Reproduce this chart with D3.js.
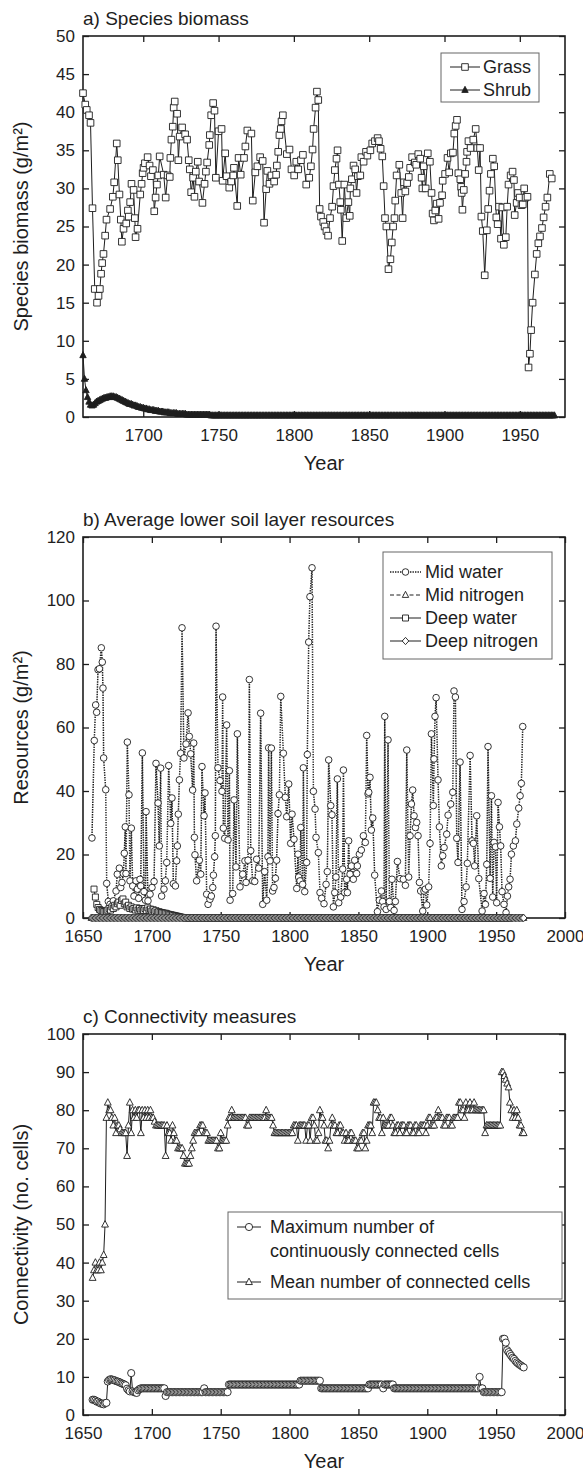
<!DOCTYPE html>
<html>
<head>
<meta charset="utf-8">
<script src="https://cdn.jsdelivr.net/npm/d3@7"></script>
<style>
  body { margin: 0; background: #fff; }
  text { font-family: "Liberation Sans", Arial, sans-serif; }
</style>
</head>
<body>
<div id="chart"></div>
<script>
var FONT = "Liberation Sans, Arial, sans-serif";
var INK = "#1e1e1e";

// ---------- a) species biomass ----------
var aXTicks = [1700, 1750, 1800, 1850, 1900, 1950];
var aYTicks = [0, 5, 10, 15, 20, 25, 30, 35, 40, 45, 50];

var grassYear = [1660.0,1661.5,1662.5,1664.0,1665.0,1666.3,1667.8,1669.3,1670.3,1671.2,
  1672.0,1672.7,1673.6,1674.7,1675.6,1678.0,1679.8,1680.7,1682.4,1683.1,
  1684.2,1685.1,1685.8,1686.9,1688.7,1689.8,1690.4,1691.3,1692.2,1693.6,
  1694.4,1694.9,1696.2,1698.0,1698.9,1699.6,1700.2,1701.1,1702.9,1704.2,
  1705.1,1706.4,1707.3,1708.2,1709.1,1710.0,1710.9,1713.6,1714.9,1716.2,
  1717.6,1718.0,1718.7,1719.6,1720.2,1720.9,1722.5,1723.3,1724.2,1725.8,
  1727.8,1729.1,1730.2,1730.9,1731.8,1733.1,1734.0,1734.9,1736.2,1737.1,
  1739.3,1740.7,1741.6,1742.4,1743.8,1744.2,1745.1,1746.4,1747.3,1748.2,
  1750.0,1752.0,1752.7,1754.4,1755.3,1757.1,1758.4,1759.8,1760.2,1762.4,
  1763.3,1764.7,1766.9,1767.8,1769.1,1771.8,1772.7,1774.4,1775.8,1777.6,
  1779.3,1780.2,1781.6,1782.4,1783.8,1785.1,1786.9,1788.2,1788.7,1789.6,
  1790.4,1791.3,1791.8,1792.7,1795.3,1797.1,1798.4,1800.2,1801.6,1802.9,
  1804.7,1806.0,1808.2,1810.2,1811.3,1812.4,1813.1,1814.4,1815.3,1816.2,
  1817.1,1818.0,1819.5,1820.4,1821.6,1822.7,1824.0,1825.4,1826.3,1827.2,
  1828.3,1829.0,1829.9,1830.8,1831.2,1832.1,1833.5,1834.8,1836.2,1837.1,
  1837.5,1838.5,1839.6,1840.7,1841.6,1842.5,1844.1,1844.8,1846.3,1847.9,
  1848.8,1850.8,1852.0,1853.8,1855.6,1856.5,1857.6,1858.7,1859.6,1860.5,
  1861.4,1862.8,1864.1,1865.0,1865.9,1866.8,1867.3,1868.2,1870.0,1871.3,
  1872.2,1873.1,1874.0,1875.2,1876.3,1877.2,1878.5,1880.3,1881.2,1882.6,
  1883.9,1884.8,1885.3,1886.2,1887.5,1888.9,1890.3,1891.4,1892.1,1893.0,
  1893.9,1894.8,1896.1,1897.0,1898.4,1898.8,1900.4,1902.0,1903.1,1904.2,
  1905.6,1906.5,1907.4,1908.3,1909.2,1910.5,1911.0,1911.4,1911.9,1912.8,
  1913.7,1914.6,1915.0,1915.9,1917.3,1919.1,1920.7,1921.8,1922.7,1923.6,
  1924.5,1925.4,1926.7,1928.1,1929.0,1929.9,1930.8,1932.1,1933.0,1934.4,
  1935.3,1936.2,1937.5,1938.4,1939.4,1940.7,1941.6,1942.5,1943.9,1945.2,
  1946.1,1946.6,1947.9,1948.8,1949.9,1951.1,1952.0,1952.9,1953.8,1955.1,
  1955.8,1956.7,1957.5,1958.5,1960.0,1961.2,1962.3,1963.4,1964.7,1965.8,
  1967.1,1968.3,1969.9,1971.2];
var grassValue = [42.5,41.0,40.3,39.6,38.6,27.4,16.8,15.0,15.9,16.8,
  18.8,20.2,21.4,23.8,25.9,27.3,28.9,30.8,35.9,33.7,
  29.2,25.9,23.0,24.7,25.4,27.1,26.3,28.2,30.6,29.8,
  26.1,23.6,24.7,29.2,30.6,32.0,32.7,33.3,34.1,33.0,
  31.6,32.4,27.0,28.8,30.5,31.7,34.2,31.8,28.8,31.7,
  31.5,34.0,36.4,38.1,40.6,41.4,39.8,33.7,36.8,38.0,
  37.1,36.4,33.7,32.5,29.5,31.4,28.9,32.2,33.5,30.9,
  28.1,30.6,32.2,33.4,35.7,37.0,39.6,41.2,40.2,31.4,
  37.5,37.8,31.0,34.6,31.6,30.1,30.9,31.7,32.7,27.7,
  34.0,31.8,34.0,35.5,37.6,37.2,28.4,32.1,32.9,34.1,
  33.6,25.5,29.9,32.3,30.6,31.7,30.9,31.8,33.0,34.8,
  37.0,37.8,38.8,39.6,34.5,35.1,32.5,31.7,33.5,32.5,
  33.7,34.4,30.5,31.4,32.9,35.1,37.8,40.6,42.7,41.6,
  27.3,26.3,25.6,25.0,24.4,23.8,26.1,27.6,30.3,32.4,
  33.9,35.0,30.5,28.2,27.2,23.1,30.5,26.1,28.2,26.4,
  30.0,31.2,33.0,32.5,29.4,31.6,31.7,34.1,33.5,34.8,
  34.3,35.0,35.9,36.2,36.6,36.2,35.2,34.2,30.3,26.1,
  25.0,19.4,20.7,22.9,25.0,26.1,28.4,31.7,33.1,29.4,
  26.1,30.8,29.6,30.7,31.5,32.7,34.1,33.4,33.1,34.5,
  33.9,31.4,30.0,32.9,30.0,34.6,33.5,29.4,26.7,25.8,
  27.1,28.0,26.0,28.1,29.1,31.0,31.9,34.0,32.1,34.6,
  34.7,37.2,38.2,39.0,32.0,31.2,30.2,29.4,27.2,29.8,
  31.9,33.5,34.8,36.2,35.3,36.4,37.8,35.3,32.4,35.3,
  26.3,24.4,18.6,24.5,27.3,29.7,31.9,33.9,32.9,26.2,
  25.3,27.6,23.4,27.5,22.6,23.6,27.6,30.5,31.7,32.2,
  31.1,26.5,28.1,29.4,28.8,27.8,27.9,30.0,28.8,28.9,
  6.5,8.3,11.4,15.0,18.7,21.4,22.8,23.7,24.8,26.2,
  27.6,28.8,31.9,31.3];

var shrubStart = 1660;
var shrubValue = [8.1,5.0,3.5,2.6,2.0,1.6,1.5,1.6,1.8,2.0,
  2.1,2.2,2.3,2.4,2.5,2.5,2.6,2.6,2.7,2.7,
  2.7,2.6,2.6,2.5,2.4,2.3,2.2,2.1,2.0,1.9,
  1.8,1.7,1.7,1.6,1.5,1.5,1.4,1.3,1.3,1.2,
  1.2,1.1,1.1,1.0,1.0,0.9,0.9,0.9,0.8,0.8,
  0.8,0.7,0.7,0.7,0.6,0.6,0.6,0.6,0.5,0.5,
  0.5,0.5,0.5,0.4,0.4,0.4,0.4,0.4,0.4,0.3,
  0.3,0.3,0.3,0.3,0.3,0.3,0.3,0.3,0.3,0.3,
  0.3,0.3,0.3,0.3,0.3,0.2,0.2,0.2,0.2,0.2,
  0.2,0.2,0.2,0.2,0.2,0.2,0.2,0.2,0.2,0.2,0.2,0.2,0.2,0.2,0.2,0.2,
  0.2,0.2,0.2,0.2,0.2,0.2,0.2,0.2,0.2,0.2,0.2,0.2,0.2,0.2,0.2,0.2,
  0.2,0.2,0.2,0.2,0.2,0.2,0.2,0.2,0.2,0.2,0.2,0.2,0.2,0.2,0.2,0.2,
  0.2,0.2,0.2,0.2,0.2,0.2,0.2,0.2,0.2,0.2,0.2,0.2,0.2,0.2,0.2,0.2,
  0.2,0.2,0.2,0.2,0.2,0.2,0.2,0.2,0.2,0.2,0.2,0.2,0.2,0.2,0.2,0.2,
  0.2,0.2,0.2,0.2,0.2,0.2,0.2,0.2,0.2,0.2,0.2,0.2,0.2,0.2,0.2,0.2,
  0.2,0.2,0.2,0.2,0.2,0.2,0.2,0.2,0.2,0.2,0.2,0.2,0.2,0.2,0.2,0.2,
  0.2,0.2,0.2,0.2,0.2,0.2,0.2,0.2,0.2,0.2,0.2,0.2,0.2,0.2,0.2,0.2,
  0.2,0.2,0.2,0.2,0.2,0.2,0.2,0.2,0.2,0.2,0.2,0.2,0.2,0.2,0.2,0.2,
  0.2,0.2,0.2,0.2,0.2,0.2,0.2,0.2,0.2,0.2,0.2,0.2,0.2,0.2,0.2,0.2,
  0.2,0.2,0.2,0.2,0.2,0.2,0.2,0.2,0.2,0.2,0.2,0.2,0.2,0.2,0.2,0.2,
  0.2,0.2,0.2,0.2,0.2,0.2,0.2,0.2,0.2,0.2,0.2,0.2,0.2,0.2,0.2,0.2,
  0.2,0.2,0.2,0.2,0.2,0.2,0.2,0.2,0.2,0.2,0.2,0.2,0.2,0.2,0.2,0.2,
  0.2,0.2,0.2,0.2,0.2,0.2,0.2,0.2,0.2,0.2,0.2,0.2,0.2,0.2,0.2,0.2];

// ---------- b) lower soil layer resources ----------
var bXTicks = [1650, 1700, 1750, 1800, 1850, 1900, 1950, 2000];
var bYTicks = [0, 20, 40, 60, 80, 100, 120];

var midWaterYear = [1656.5,1658.2,1659.2,1659.9,1660.9,1661.9,1663.3,1664.0,1664.5,1665.0,
  1666.5,1667.2,1668.4,1669.6,1672.0,1674.0,1674.9,1676.4,1677.4,1678.3,
  1679.3,1680.0,1680.7,1681.2,1682.2,1683.4,1684.1,1685.1,1686.1,1687.0,
  1688.5,1689.5,1690.4,1691.4,1691.9,1693.1,1694.3,1695.3,1695.8,1697.2,
  1698.7,1700.1,1701.6,1703.0,1704.5,1705.4,1706.4,1707.1,1708.8,1709.8,
  1710.8,1712.2,1713.7,1714.6,1715.6,1717.1,1718.0,1718.5,1719.2,1720.0,
  1720.9,1721.9,1723.3,1724.8,1726.3,1727.2,1728.2,1729.6,1730.4,1730.9,
  1731.3,1732.5,1734.5,1735.5,1736.4,1737.9,1738.6,1739.8,1740.8,1742.2,
  1743.2,1744.2,1744.7,1745.6,1746.1,1746.6,1748.0,1749.5,1750.9,1751.4,
  1751.9,1752.9,1754.3,1755.3,1756.3,1756.8,1758.7,1759.7,1761.1,1762.1,
  1764.0,1766.0,1767.6,1768.4,1769.8,1770.8,1771.8,1773.2,1774.7,1776.1,
  1777.6,1779.0,1780.5,1781.9,1783.4,1784.3,1784.8,1785.8,1786.8,1787.7,
  1788.7,1789.7,1790.6,1791.6,1792.6,1793.6,1795.5,1796.9,1797.9,1799.4,
  1800.8,1801.8,1803.2,1805.2,1806.1,1806.6,1807.6,1808.1,1809.5,1810.0,
  1811.0,1812.4,1812.9,1813.9,1814.8,1816.3,1817.3,1818.5,1819.2,1820.9,
  1822.1,1823.3,1825.0,1826.5,1827.4,1828.4,1829.9,1830.8,1831.8,1832.8,
  1833.7,1834.7,1835.7,1837.1,1838.6,1839.1,1840.0,1841.5,1842.0,1842.9,
  1843.9,1844.9,1846.3,1847.3,1848.7,1849.2,1850.7,1852.1,1853.6,1855.0,
  1856.0,1857.0,1857.5,1858.4,1859.4,1860.4,1861.8,1863.8,1865.2,1866.7,
  1867.6,1868.6,1869.1,1870.1,1871.5,1872.5,1873.4,1874.4,1875.9,1876.8,
  1878.3,1880.2,1882.6,1884.1,1885.1,1886.5,1887.5,1888.5,1889.4,1890.4,
  1891.4,1892.3,1893.3,1894.3,1895.2,1896.7,1897.6,1898.6,1899.6,1901.0,
  1902.0,1903.0,1904.4,1904.9,1905.6,1906.4,1907.8,1908.8,1910.2,1911.2,
  1912.2,1914.1,1915.1,1917.0,1918.5,1919.4,1920.4,1921.4,1922.3,1923.8,
  1925.2,1926.7,1928.2,1929.1,1931.1,1932.5,1933.5,1934.4,1935.9,1937.4,
  1939.8,1941.2,1942.2,1943.2,1944.1,1945.6,1946.6,1947.5,1948.5,1949.5,
  1950.4,1951.4,1952.4,1953.3,1954.3,1955.7,1957.2,1958.2,1959.1,1960.1,
  1961.1,1962.5,1964.0,1965.0,1966.4,1967.4,1968.3,1969.3];
var midWaterValue = [25.2,55.9,67.1,64.8,78.2,78.5,85.1,80.6,72.4,50.4,
  40.4,10.9,5.2,4.3,5.4,8.5,13.8,15.7,9.6,11.2,
  14.0,20.4,28.7,14.0,55.4,38.8,11.7,28.3,10.1,6.9,
  11.7,9.1,6.2,12.2,10.1,52.0,8.3,5.6,33.5,5.4,
  7.5,9.6,11.5,48.7,36.2,22.7,47.2,6.9,9.1,11.7,
  17.5,48.0,29.8,37.8,10.8,10.1,18.0,22.7,32.7,43.5,
  51.9,91.4,50.4,54.8,64.6,57.2,51.7,40.3,55.1,25.4,
  19.9,11.7,18.2,13.8,47.7,32.2,39.4,7.5,4.3,5.9,
  6.9,9.6,13.5,19.3,25.9,91.9,47.3,43.3,39.9,69.6,
  28.3,25.1,60.8,24.6,46.4,5.6,7.7,37.2,16.1,58.0,
  9.8,13.8,18.0,11.2,18.2,75.1,21.2,11.7,11.5,18.5,
  15.7,64.5,4.3,14.6,5.6,19.3,53.6,18.0,53.5,8.5,
  9.6,12.5,18.2,32.9,38.8,69.8,51.9,38.0,31.9,42.2,
  23.5,32.7,24.8,9.3,20.1,12.9,11.7,28.5,10.6,47.3,
  8.3,17.5,51.5,86.9,101.2,110.3,39.9,34.3,25.4,20.6,
  8.0,6.2,4.5,10.6,14.6,49.8,35.4,32.5,3.5,8.0,
  12.9,43.8,4.8,6.6,15.4,46.6,8.0,12.2,8.0,24.3,
  13.8,16.4,12.2,18.2,14.0,16.4,20.1,21.4,25.9,23.8,
  57.5,39.1,39.6,44.3,27.7,31.5,13.5,2.0,5.6,8.5,
  5.2,3.5,63.5,2.7,56.1,5.2,3.3,12.2,2.4,5.2,
  17.8,12.4,12.2,10.3,52.9,12.9,25.9,35.9,40.3,32.2,
  28.5,30.1,25.9,11.2,8.5,2.2,8.5,9.1,4.1,9.8,
  23.5,58.0,35.4,50.1,63.5,69.4,43.5,28.7,16.4,19.6,
  22.2,26.4,32.4,35.9,39.6,71.5,69.6,25.1,17.5,49.1,
  2.7,5.2,9.8,17.2,51.2,24.3,23.5,16.4,32.2,12.4,
  2.2,7.7,4.3,16.9,54.0,12.5,38.5,6.6,23.8,22.4,
  4.8,36.4,28.7,22.7,8.3,4.3,1.7,6.9,9.8,12.2,
  20.1,22.7,24.3,29.6,34.6,38.5,42.4,60.3];

var nitrogenStart = 1656;
var midNitrogenValue = [
  0,0,0,0,0,0,0,0,0,0, 0,0,0,0,0,0,0,0,0,0, 0,0,0,0,0,0,0,0,0,0,
  0,0,0,0,0,0,0,0,0,0, 0,0,0,0,0,0,0,0,0,0, 0,0,0,0,0,0,0,0,0,0,
  0,0,0,0,0,0,0,0,0,0, 0,0,0,0,0,0,0,0,0,0, 0,0,0,0,0,0,0,0,0,0,
  0,0,0,0,0,0,0,0,0,0, 0,0,0,0,0,0,0,0,0,0, 0,0,0,0,0,0,0,0,0,0,
  0,0,0,0,0,0,0,0,0,0, 0,0,0,0,0,0,0,0,0,0, 0,0,0,0,0,0,0,0,0,0,
  0,0,0,0,0,0,0,0,0,0, 0,0,0,0,0,0,0,0,0,0, 0,0,0,0,0,0,0,0,0,0,
  0,0,0,0,0,0,0,0,0,0, 0,0,0,0,0,0,0,0,0,0, 0,0,0,0,0,0,0,0,0,0,
  0,0,0,0,0,0,0,0,0,0, 0,0,0,0,0,0,0,0,0,0, 0,0,0,0,0,0,0,0,0,0,
  0,0,0,0,0,0,0,0,0,0, 0,0,0,0,0,0,0,0,0,0, 0,0,0,0,0,0,0,0,0,0,
  0,0,0,0,0,0,0,0,0,0, 0,0,0,0,0,0,0,0,0,0, 0,0,0,0,0,0,0,0,0,0,
  0,0,0,0,0,0,0,0,0,0, 0,0,0,0,0];
var deepNitrogenValue = [
  0,0,0,0,0,0,0,0,0,0, 0,0,0,0,0,0,0,0,0,0, 0,0,0,0,0,0,0,0,0,0,
  0,0,0,0,0,0,0,0,0,0, 0,0,0,0,0,0,0,0,0,0, 0,0,0,0,0,0,0,0,0,0,
  0,0,0,0,0,0,0,0,0,0, 0,0,0,0,0,0,0,0,0,0, 0,0,0,0,0,0,0,0,0,0,
  0,0,0,0,0,0,0,0,0,0, 0,0,0,0,0,0,0,0,0,0, 0,0,0,0,0,0,0,0,0,0,
  0,0,0,0,0,0,0,0,0,0, 0,0,0,0,0,0,0,0,0,0, 0,0,0,0,0,0,0,0,0,0,
  0,0,0,0,0,0,0,0,0,0, 0,0,0,0,0,0,0,0,0,0, 0,0,0,0,0,0,0,0,0,0,
  0,0,0,0,0,0,0,0,0,0, 0,0,0,0,0,0,0,0,0,0, 0,0,0,0,0,0,0,0,0,0,
  0,0,0,0,0,0,0,0,0,0, 0,0,0,0,0,0,0,0,0,0, 0,0,0,0,0,0,0,0,0,0,
  0,0,0,0,0,0,0,0,0,0, 0,0,0,0,0,0,0,0,0,0, 0,0,0,0,0,0,0,0,0,0,
  0,0,0,0,0,0,0,0,0,0, 0,0,0,0,0,0,0,0,0,0, 0,0,0,0,0,0,0,0,0,0,
  0,0,0,0,0,0,0,0,0,0, 0,0,0,0,0];

var deepWaterStart = 1658;
var deepWaterValue = [9.1,6.6,4.3,3.3,2.7,2.4,2.2,2.0,2.0,2.2,
  2.5,3.0,2.5,3.5,3.0,4.0,3.5,4.5,5.0,4.0,
  5.5,6.0,4.5,5.0,3.5,4.0,3.0,3.5,2.8,3.0,
  2.5,3.2,2.5,3.0,2.4,2.8,2.4,3.0,2.4,3.2,
  2.5,2.8,2.2,2.6,2.0,2.3,1.8,2.0,1.8,1.7,
  1.6,1.5,1.5,1.3,1.2,1.0,1.0,0.9,0.8,0.7,
  0.6,0.5,0.4,0.3,0.2,0.1,0.1,
  0,0,0,0,0,0,0,0,0,0, 0,0,0,0,0,0,0,0,0,0, 0,0,0,0,0,0,0,0,0,0,
  0,0,0,0,0,0,0,0,0,0, 0,0,0,0,0,0,0,0,0,0, 0,0,0,0,0,0,0,0,0,0,
  0,0,0,0,0,0,0,0,0,0, 0,0,0,0,0,0,0,0,0,0, 0,0,0,0,0,0,0,0,0,0,
  0,0,0,0,0,0,0,0,0,0, 0,0,0,0,0,0,0,0,0,0, 0,0,0,0,0,0,0,0,0,0,
  0,0,0,0,0,0,0,0,0,0, 0,0,0,0,0,0,0,0,0,0, 0,0,0,0,0,0,0,0,0,0,
  0,0,0,0,0,0,0,0,0,0, 0,0,0,0,0,0,0,0,0,0, 0,0,0,0,0,0,0,0,0,0,
  0,0,0,0,0,0,0,0,0,0, 0,0,0,0,0,0,0,0,0,0, 0,0,0,0,0,0,0,0,0,0,
  0,0,0,0,0,0,0,0,0,0, 0,0,0,0,0,0,0,0,0,0, 0,0,0,0,0,0];

// ---------- c) connectivity ----------
var cXTicks = [1650, 1700, 1750, 1800, 1850, 1900, 1950, 2000];
var cYTicks = [0, 10, 20, 30, 40, 50, 60, 70, 80, 90, 100];
var connStart = 1657;
var maxConnected = [4,4,3.8,3.5,3.5,3.2,3,3,2.8,3.1,
  3.2,8.8,9.2,9.4,9.3,9.2,9.1,8.9,8.8,8.7,
  8.5,8.3,8.2,8,7.8,6.9,6.5,6.2,11,6.2,
  6,5.9,5.8,6.5,6.8,7,7,7,7,7,
  7,7,7,7,7,7,7,7,7,7,
  7,7,7,5,6,6,6,6,6,6,
  6,6,6,6,6,6,6,6,6,6,
  6,6,6,6,6,6,6,6,6,6,
  6,7,6,6,6,6,6,6,6,6,
  6,6,6,6,6,6,6,6,6,8,
  8,8,8,8,8,8,8,8,8,8,
  8,8,8,8,8,8,8,8,8,8,
  8,8,8,8,8,8,8,8,8,8,
  8,8,8,8,8,8,8,8,8,8,
  8,8,8,8,8,8,8,8,8,8,
  8,9,9,9,9,9,9,9,9,9,
  9,9,9,9,9,9,7,7,7,7,
  7,7,7,7,7,7,7,7,7,7,
  7,7,7,7,7,7,7,7,7,7,
  7,7,7,7,7,7,7,7,7,7,
  7,8,8,8,8,8,8,8,8,8,
  8,7,8,8,8,8,8,8,8,7,
  7,7,7,7,7,7,7,7,7,7,
  7,7,7,7,7,7,7,7,7,7,
  7,7,7,7,7,7,7,7,7,7,
  7,7,7,7,7,7,7,7,7,7,
  7,7,7,7,7,7,7,7,7,7,
  7,7,7,7,7,7,7,7,7,7,
  7,10,7,7,6,6,6,6,6,6,
  6,6,6,6,6,6,6,6,20,20,
  19,17,16.5,16,15.5,15,14.7,14.2,13.8,13.5,
  13.2,13,12.7,12.5];
var meanConnected = [36,38,40,38,38,40,38,40,42,50,
  78,82,80,80,78,76,78,74,76,76,
  75,74,74,74,74,68,76,82,74,80,
  78,80,78,80,80,74,80,78,80,78,
  80,78,80,78,78,77,76,76,76,76,
  76,76,76,68,76,74,74,72,76,74,
  72,72,70,70,70,70,68,66,66,66,
  66,68,70,72,74,74,74,74,76,76,
  76,74,74,74,72,72,72,72,72,72,
  72,70,70,74,72,72,72,72,76,78,
  78,80,78,78,78,78,78,78,78,78,
  78,78,76,76,78,78,78,78,78,78,
  78,78,78,78,78,78,80,78,78,78,
  78,76,74,74,74,74,74,74,74,74,
  74,74,74,74,74,74,76,76,76,72,
  76,76,76,76,76,72,76,76,72,78,
  78,76,72,72,74,80,78,78,76,72,
  72,70,72,76,78,76,76,74,74,76,
  76,74,74,72,74,72,72,74,74,72,
  72,72,70,70,72,72,74,74,70,72,
  76,76,76,74,82,82,82,80,78,78,
  74,78,76,76,76,76,78,78,76,74,
  74,76,76,74,76,76,76,74,74,76,
  76,76,74,74,76,76,74,74,76,76,
  76,76,74,76,78,78,76,76,76,78,
  78,80,78,78,78,76,76,78,78,78,
  76,76,78,78,78,78,82,82,80,80,
  78,82,80,80,82,80,80,82,80,80,
  80,80,80,80,80,74,76,76,76,76,
  76,76,76,76,76,76,76,90,90,89,
  88,87,86,82,80,78,80,78,80,78,
  76,76,74,74];

// ---------- layout ----------
var width = 583, height = 1471;
var plotLeft = 83, plotRight = 565, plotH = 381;

var svg = d3.select("#chart").append("svg")
  .attr("width", width)
  .attr("height", height);

function annual(start, values) {
  return values.map(function(v, i) { return [start + i, v]; });
}
function paired(years, values) {
  return years.map(function(t, i) { return [t, values[i]]; });
}

function shapePath(shape, s) {
  if (shape === "square") return "M" + (-s) + "," + (-s) + "H" + s + "V" + s + "H" + (-s) + "Z";
  if (shape === "triangle") return "M0," + (-s * 1.15) + "L" + s + "," + (s * 0.75) + "L" + (-s) + "," + (s * 0.75) + "Z";
  if (shape === "diamond") return "M0," + (-s * 1.1) + "L" + s + ",0L0," + (s * 1.1) + "L" + (-s) + ",0Z";
}

function addMarker(sel, o) {
  if (o.shape === "circle") {
    sel.append("circle").attr("r", o.size);
  } else {
    sel.append("path").attr("d", shapePath(o.shape, o.size));
  }
}

function makePanel(top, xDomain, yDomain, xTicks, yTicks, title, yTitle) {
  var x = d3.scaleLinear().domain(xDomain).range([plotLeft, plotRight]);
  var y = d3.scaleLinear().domain(yDomain).range([top + plotH, top]);
  var g = svg.append("g");
  var axes = g.append("g").attr("color", INK);

  axes.append("g").attr("transform", "translate(0," + (top + plotH) + ")")
    .call(d3.axisBottom(x).tickValues(xTicks).tickSizeInner(-6).tickSizeOuter(0)
      .tickPadding(12).tickFormat(d3.format("d")));
  axes.append("g").attr("transform", "translate(0," + top + ")")
    .call(d3.axisTop(x).tickValues(xTicks).tickSizeInner(-6).tickSizeOuter(0).tickFormat(""));
  axes.append("g").attr("transform", "translate(" + plotLeft + ",0)")
    .call(d3.axisLeft(y).tickValues(yTicks).tickSizeInner(-6).tickSizeOuter(0).tickPadding(8));
  axes.append("g").attr("transform", "translate(" + plotRight + ",0)")
    .call(d3.axisRight(y).tickValues(yTicks).tickSizeInner(-6).tickSizeOuter(0).tickFormat(""));
  axes.selectAll(".domain").remove();
  axes.selectAll(".tick line").attr("stroke-width", 1.3);
  axes.selectAll("text").attr("font-size", 17).attr("font-family", FONT);

  g.append("rect")
    .attr("x", plotLeft).attr("y", top)
    .attr("width", plotRight - plotLeft).attr("height", plotH)
    .attr("fill", "none").attr("stroke", INK).attr("stroke-width", 1.6);

  g.append("text")
    .attr("x", plotLeft).attr("y", top - 11)
    .attr("font-size", 19).attr("fill", INK)
    .text(title);

  g.append("text")
    .attr("transform", "translate(21," + (top + plotH / 2) + ") rotate(-90)")
    .attr("dy", "0.35em")
    .attr("text-anchor", "middle")
    .attr("font-size", 20).attr("fill", INK)
    .text(yTitle);

  g.append("text")
    .attr("x", (plotLeft + plotRight) / 2).attr("y", top + plotH + 53)
    .attr("text-anchor", "middle")
    .attr("font-size", 20).attr("fill", INK)
    .text("Year");

  return { x: x, y: y, g: g.append("g") };
}

function drawSeries(p, pts, o) {
  p.g.append("path").datum(pts)
    .attr("d", d3.line().x(function(d) { return p.x(d[0]); }).y(function(d) { return p.y(d[1]); }))
    .attr("fill", "none")
    .attr("stroke", INK)
    .attr("stroke-width", o.lw || 1)
    .attr("stroke-dasharray", o.dash || null);
  var m = p.g.append("g")
    .attr("fill", o.fill || "#fff")
    .attr("stroke", INK)
    .attr("stroke-width", 0.9);
  m.selectAll("g").data(pts).enter().append("g")
    .attr("transform", function(d) { return "translate(" + p.x(d[0]) + "," + p.y(d[1]) + ")"; })
    .each(function() { addMarker(d3.select(this), o); });
}

function legend(box, entries) {
  var lg = svg.append("g");
  lg.append("rect")
    .attr("x", box.x).attr("y", box.y).attr("width", box.w).attr("height", box.h)
    .attr("fill", "#fff").attr("stroke", "#666").attr("stroke-width", 1);
  entries.forEach(function(e) {
    if (e.o) {
      lg.append("line")
        .attr("x1", box.lx1).attr("x2", box.lx2).attr("y1", e.y).attr("y2", e.y)
        .attr("stroke", INK).attr("stroke-width", e.o.lw || 1)
        .attr("stroke-dasharray", e.o.dash || null);
      var mk = lg.append("g")
        .attr("transform", "translate(" + ((box.lx1 + box.lx2) / 2) + "," + e.y + ")")
        .attr("fill", e.o.fill || "#fff").attr("stroke", INK).attr("stroke-width", 0.9);
      addMarker(mk, e.o);
    }
    lg.append("text")
      .attr("x", box.tx).attr("y", e.y).attr("dy", "0.35em")
      .attr("font-size", 18).attr("fill", INK)
      .text(e.label);
  });
}

// ---------- panel a ----------
var grassStyle = { shape: "square", size: 3.3 };
var shrubStyle = { shape: "triangle", size: 3.2, fill: INK };
var pa = makePanel(36, [1660, 1980], [0, 50], aXTicks, aYTicks,
  "a) Species biomass", "Species biomass (g/m\u00b2)");
drawSeries(pa, paired(grassYear, grassValue), grassStyle);
drawSeries(pa, annual(shrubStart, shrubValue), shrubStyle);
legend({ x: 441, y: 53, w: 98, h: 49, lx1: 450, lx2: 480, tx: 483 }, [
  { y: 67, label: "Grass", o: grassStyle },
  { y: 90, label: "Shrub", o: shrubStyle }
]);

// ---------- panel b ----------
var midWaterStyle = { shape: "circle", size: 3.3, dash: "1.4,1.1", lw: 1.5 };
var midNitroStyle = { shape: "triangle", size: 3.2, dash: "4,2.5" };
var deepWaterStyle = { shape: "square", size: 3 };
var deepNitroStyle = { shape: "diamond", size: 3.3 };
var pb = makePanel(537, [1650, 2000], [0, 120], bXTicks, bYTicks,
  "b) Average lower soil layer resources", "Resources (g/m\u00b2)");
drawSeries(pb, paired(midWaterYear, midWaterValue), midWaterStyle);
drawSeries(pb, annual(nitrogenStart, midNitrogenValue), midNitroStyle);
drawSeries(pb, annual(deepWaterStart, deepWaterValue), deepWaterStyle);
drawSeries(pb, annual(nitrogenStart, deepNitrogenValue), deepNitroStyle);
legend({ x: 383, y: 552, w: 169, h: 107, lx1: 390, lx2: 421, tx: 425 }, [
  { y: 572, label: "Mid water", o: midWaterStyle },
  { y: 595, label: "Mid nitrogen", o: midNitroStyle },
  { y: 618, label: "Deep water", o: deepWaterStyle },
  { y: 641, label: "Deep nitrogen", o: deepNitroStyle }
]);

// ---------- panel c ----------
var maxStyle = { shape: "circle", size: 3.6 };
var meanStyle = { shape: "triangle", size: 3.4 };
var pc = makePanel(1034, [1650, 2000], [0, 100], cXTicks, cYTicks,
  "c) Connectivity measures", "Connectivity (no. cells)");
drawSeries(pc, annual(connStart, maxConnected), maxStyle);
drawSeries(pc, annual(connStart, meanConnected), meanStyle);
legend({ x: 228, y: 1212, w: 334, h: 87, lx1: 237, lx2: 261, tx: 270 }, [
  { y: 1227, label: "Maximum number of", o: maxStyle },
  { y: 1251, label: "continuously connected cells" },
  { y: 1282, label: "Mean number of connected cells", o: meanStyle }
]);
</script>
</body>
</html>
